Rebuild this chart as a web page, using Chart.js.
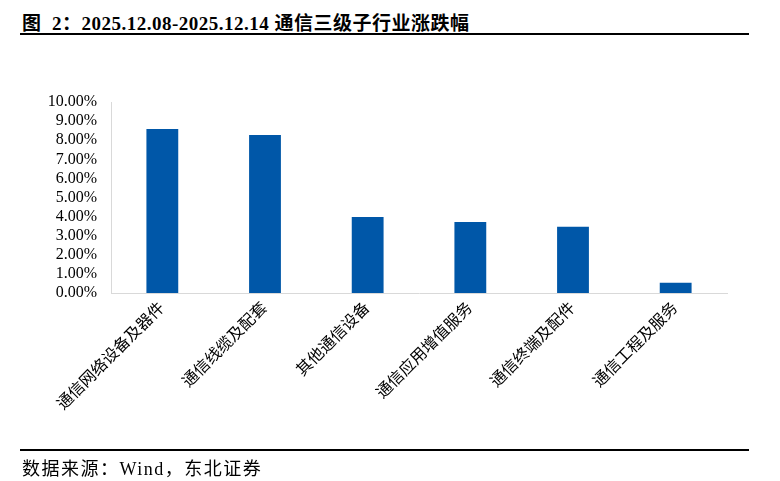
<!DOCTYPE html>
<html>
<head>
<meta charset="utf-8">
<script src="https://cdn.jsdelivr.net/npm/chart.js@4/dist/chart.umd.min.js"></script>
<style>
  html, body { margin: 0; padding: 0; background: #fff; }
  #wrap { position: relative; width: 780px; height: 481px; overflow: hidden; }
  #chart { position: absolute; left: 0; top: 0; }
  .title {
    position: absolute; left: 22px; top: 8px; letter-spacing: 0.5px;
    font: bold 19px "Liberation Serif", "Times New Roman", "Noto Sans CJK SC", serif;
    color: #000; white-space: nowrap;
  }
  .rule { position: absolute; left: 20px; width: 729px; height: 2px; background: #000; }
  .source {
    position: absolute; left: 22px; top: 454px; letter-spacing: 1.5px;
    font: 18px "Liberation Serif", "Times New Roman", "Noto Sans CJK SC", serif;
    color: #000; white-space: nowrap;
  }
</style>
</head>
<body>
<div id="wrap">
  <div class="title">图&nbsp; 2：2025.12.08-2025.12.14 通信三级子行业涨跌幅</div>
  <div class="rule" style="top:33px"></div>
  <canvas id="chart" width="780" height="481"></canvas>
  <div class="rule" style="top:449px"></div>
  <div class="source">数据来源：Wind，东北证券</div>
</div>
<script>
// industries and weekly change (%)
const categories = [
  "通信网络设备及器件",
  "通信线缆及配套",
  "其他通信设备",
  "通信应用增值服务",
  "通信终端及配件",
  "通信工程及服务"
];
const changes = [8.59, 8.27, 3.98, 3.72, 3.47, 0.54];

const fontFamily = '"Liberation Serif", "Times New Roman", "Noto Sans CJK SC", serif';

const ctx = document.getElementById('chart').getContext('2d');
const chart = new Chart(ctx, {
  type: 'bar',
  data: {
    labels: categories,
    datasets: [{
      data: changes,
      backgroundColor: '#0057A8',
      barPercentage: 0.31,
      categoryPercentage: 1
    }]
  },
  options: {
    responsive: false,
    animation: false,
    layout: { padding: { left: 0, top: 102, right: 53, bottom: 0 } },
    plugins: { legend: { display: false }, tooltip: { enabled: false } },
    scales: {
      x: {
        grid: { display: false, drawTicks: false },
        border: { color: '#d9d9d9', width: 1 },
        ticks: {
          color: '#000',
          font: { family: fontFamily, size: 16 },
          minRotation: 45,
          maxRotation: 45,
          padding: 6,
          autoSkip: false
        },
        afterFit: scale => { scale.height = 188; }
      },
      y: {
        min: 0,
        max: 10,
        grid: { display: false, drawTicks: false },
        border: { color: '#d9d9d9', width: 1 },
        ticks: {
          stepSize: 1,
          autoSkip: false,
          color: '#000',
          font: { family: fontFamily, size: 16 },
          padding: 14,
          callback: v => v.toFixed(2) + '%'
        },
        afterFit: scale => { scale.width = 111; }
      }
    }
  }
});
</script>
</body>
</html>
